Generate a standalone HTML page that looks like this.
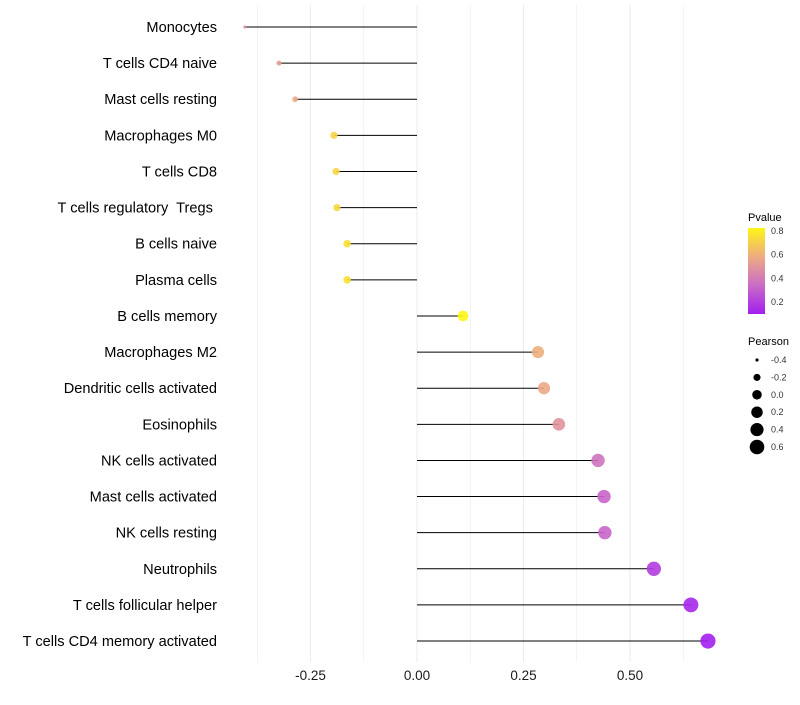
<!DOCTYPE html>
<html><head><meta charset="utf-8"><style>
body{margin:0;background:#fff;font-family:"Liberation Sans",sans-serif}
svg text{font-family:"Liberation Sans",sans-serif;white-space:pre}
</style></head><body>
<svg id="chart" width="800" height="700">
<defs><linearGradient id="pg" x1="0" y1="1" x2="0" y2="0">
<stop offset="0" stop-color="#a21ff0"/><stop offset="0.35" stop-color="#cc6fc4"/>
<stop offset="0.65" stop-color="#eca886"/><stop offset="1" stop-color="#fff516"/></linearGradient></defs>
<g id="grid"></g><g id="marks"></g><g id="labels"></g><g id="legend"></g>
</svg>
<script>
const categories=["Monocytes","T cells CD4 naive","Mast cells resting","Macrophages M0","T cells CD8","T cells regulatory  Tregs ","B cells naive","Plasma cells","B cells memory","Macrophages M2","Dendritic cells activated","Eosinophils","NK cells activated","Mast cells activated","NK cells resting","Neutrophils","T cells follicular helper","T cells CD4 memory activated"];
const pearson=[-0.404,-0.324,-0.286,-0.195,-0.19,-0.188,-0.164,-0.164,0.108,0.284,0.298,0.333,0.425,0.439,0.441,0.556,0.643,0.683];
const pvalue=[0.45,0.55,0.6,0.75,0.76,0.76,0.79,0.79,0.86,0.62,0.6,0.5,0.35,0.3,0.3,0.15,0.08,0.05];
const xTicks=[-0.25,0,0.25,0.5];
const xTickLabels=["-0.25","0.00","0.25","0.50"];
const sizeLegend=[-0.4,-0.2,0,0.2,0.4,0.6];
const pLegend=[0.2,0.4,0.6,0.8];
const NS="http://www.w3.org/2000/svg";
const X=v=>417+v*426;
const Y=i=>27+i*36.12;
const R=v=>7.3*Math.sqrt(Math.max(v+0.45,0.02)/1.05);
const PY=p=>302-(p-0.2)*(71/0.6);
function col(p){const stops=[[0.05,[162,31,240]],[0.33,[204,111,196]],[0.6,[236,168,134]],[0.86,[255,245,22]]];
 if(p<=stops[0][0])return `rgb(${stops[0][1]})`;
 for(let i=1;i<stops.length;i++){if(p<=stops[i][0]){const t=(p-stops[i-1][0])/(stops[i][0]-stops[i-1][0]);const a=stops[i-1][1],b=stops[i][1];return `rgb(${a.map((c,k)=>Math.round(c+(b[k]-c)*t))})`;}}
 return `rgb(${stops[3][1]})`;}
function mk(t,a,parent){const e=document.createElementNS(NS,t);for(const k in a)e.setAttribute(k,a[k]);parent.appendChild(e);return e;}
const grid=document.getElementById('grid'),marks=document.getElementById('marks'),labels=document.getElementById('labels'),legend=document.getElementById('legend');
for(let v=-0.375;v<=0.626;v+=0.125){const g=mk('line',{x1:X(v),x2:X(v),y1:5,y2:662,stroke:'#ebebeb','stroke-width':Math.abs((v*8)%2)<0.01?1:0.6},grid);

}
xTicks.forEach((v,i)=>{const t=mk('text',{x:X(v),y:680,'text-anchor':'middle','font-size':13.5,fill:'#1a1a1a'},labels);t.textContent=xTickLabels[i];

});
categories.forEach((c,i)=>{const y=Y(i);
const l=mk('line',{x1:X(0),x2:X(pearson[i]),y1:y,y2:y,stroke:'#000','stroke-width':1},marks);


const d=mk('circle',{cx:X(pearson[i]),cy:y,r:R(pearson[i]),fill:col(pvalue[i]),'fill-opacity':0.9},marks);


const t=mk('text',{x:217,y:y+5,'text-anchor':'end','font-size':14.6,fill:'#000'},labels);t.textContent=c;

});
const lt=mk('text',{x:748,y:221,'font-size':11,fill:'#000'},legend);lt.textContent='Pvalue';


const cb=mk('rect',{x:748,y:228,width:17,height:86,fill:'url(#pg)'},legend);


pLegend.forEach(p=>{const t=mk('text',{x:771,y:PY(p)+3,'font-size':9,fill:'#333'},legend);t.textContent=p.toFixed(1);

});
const st=mk('text',{x:748,y:345,'font-size':11,fill:'#000'},legend);st.textContent='Pearson';


sizeLegend.forEach((v,i)=>{const y=360+i*17.4;
const c=mk('circle',{cx:757,cy:y,r:R(v),fill:'#000'},legend);


const t=mk('text',{x:771,y:y+3,'font-size':9,fill:'#333'},legend);t.textContent=v.toFixed(1);

});
</script>
</body></html>
